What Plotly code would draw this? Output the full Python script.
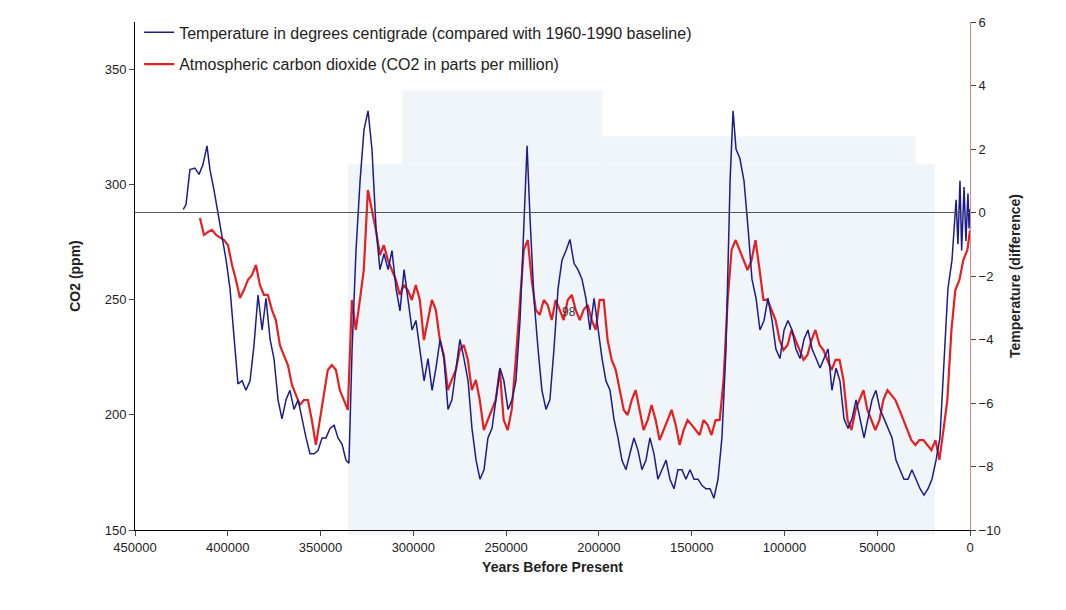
import plotly.graph_objects as go

temp_kyr = [424,422.5,420.4,417.7,415.5,413.4,411.2,409.6,407.4,405.3,403.1,400.9,398.8,396.6,394.5,392.3,390.2,388,385.9,383.7,381.5,379.4,377.2,375.1,372.9,370.8,368.6,366.5,364.3,362.1,360,357.8,355.7,353.5,351.4,349.2,347.1,344.9,342.7,340.6,338.4,336.3,334.7,333,330.9,328.7,326.6,324.4,322.3,320.1,318,315.8,313.6,311.5,309.3,307.2,305,302.9,300.7,298.6,296.4,294.2,292.1,289.9,287.8,285.6,283.5,281.3,279.2,277,274.9,272.7,270.5,268.4,266.2,264.1,261.9,259.8,257.6,255.5,253.3,251.2,249,246.8,244.7,242.5,240.4,238.7,237.1,235,232.8,230.7,228.5,226.4,224.2,222,219.9,217.7,215.6,213.4,211.3,209.1,207,204.8,202.6,200.5,198.3,196.2,194,191.9,189.7,187.6,185.4,183.3,181.1,178.9,176.8,174.6,172.5,170.3,168.2,166,163.8,161.7,159.5,157.4,155.2,153.1,150.9,148.7,146.6,144.4,142.3,140.1,138,135.8,133.7,131.5,129.3,127.7,126.1,124,121.8,119.6,117.5,115.3,113.2,111,108.9,106.7,104.6,102.4,100.2,98.1,95.9,93.8,91.6,89.5,87.3,85.1,83,80.8,78.7,76.5,74.4,72.2,70.1,67.9,65.7,63.6,61.4,59.3,57.1,55,52.8,50.7,48.5,46.3,44.2,42,39.9,37.7,35.6,33.4,31.3,29.1,26.9,24.8,22.6,20.5,18.3,16.2,14,11.9,9.7,7.5,6.5,5.4,4.5,3.2,2.2,1.1,0.5,0]
temp_val = [0.1,0.25,1.35,1.4,1.2,1.5,2.1,1.35,0.7,-0.05,-0.85,-1.5,-2.4,-4.0,-5.4,-5.3,-5.6,-5.3,-4.2,-2.6,-3.7,-2.7,-4.0,-4.6,-5.9,-6.5,-5.9,-5.6,-6.2,-5.9,-6.5,-7.1,-7.6,-7.6,-7.5,-7.1,-7.1,-6.8,-6.7,-7.1,-7.3,-7.8,-7.9,-4.3,-1.2,1.0,2.6,3.2,2.0,-0.5,-1.8,-1.3,-1.8,-1.2,-2.4,-3.1,-1.8,-2.7,-3.7,-3.4,-4.3,-5.3,-4.6,-5.6,-4.9,-4.0,-4.6,-6.2,-5.9,-4.9,-4.0,-4.6,-5.3,-6.8,-7.8,-8.4,-8.1,-7.1,-6.8,-5.9,-4.9,-5.3,-6.2,-5.9,-5.3,-3.4,-0.5,2.1,-0.2,-2.7,-4.3,-5.6,-6.2,-5.9,-4.3,-2.4,-1.5,-1.2,-0.85,-1.6,-1.8,-2.1,-2.7,-3.7,-2.7,-3.7,-4.6,-5.3,-5.6,-6.5,-7.1,-7.8,-8.1,-7.6,-7.1,-7.5,-8.1,-7.8,-7.1,-7.6,-8.4,-8.1,-7.8,-8.4,-8.7,-8.1,-8.1,-8.4,-8.1,-8.4,-8.4,-8.6,-8.7,-8.7,-9.0,-8.4,-7.1,-4.3,1.0,3.2,2.0,1.7,1.0,-0.5,-2.1,-2.7,-3.7,-3.4,-2.7,-3.4,-4.3,-4.6,-3.7,-3.4,-3.7,-4.3,-4.6,-4.0,-3.7,-4.3,-4.6,-4.9,-4.6,-4.3,-5.6,-4.9,-5.3,-6.5,-6.8,-6.5,-5.9,-6.5,-7.1,-6.5,-5.9,-5.6,-6.2,-6.5,-6.8,-7.1,-7.8,-8.1,-8.4,-8.4,-8.1,-8.4,-8.7,-8.9,-8.7,-8.4,-7.8,-7.1,-4.9,-2.4,-1.5,0.4,-1.0,1.0,-1.2,0.8,-0.9,0.6,-0.5,0.1]

co2_kyr = [415,412.8,410.6,408.5,406.3,404.2,402,399.9,397.7,395.6,393.4,391.3,389.1,387,384.8,382.7,380.5,378.4,376.2,374.1,371.9,369.8,367.6,365.4,363.3,361.1,359,356.8,354.7,352.5,350.4,348.2,346.1,343.9,341.7,339.6,337.4,335.3,333.1,331,328.8,326.7,324.5,322.3,320.2,318,315.9,313.7,311.6,309.4,307.3,305.1,303,300.8,298.7,296.5,294.3,292.2,290,287.9,285.7,283.6,281.4,279.3,277.1,275,272.8,270.6,268.5,266.3,264.2,262,259.9,257.7,255.6,253.4,251.3,249.1,247,244.8,242.6,240.5,238.3,236.2,234,231.9,229.7,227.6,225.4,223.3,221.1,219,216.8,214.6,212.5,210.3,208.2,206,203.9,201.7,199.6,197.4,195.3,193.1,190.9,188.8,186.6,184.5,182.3,180.2,178,175.9,173.7,171.6,169.4,167.3,165.1,162.9,160.8,158.6,156.5,154.3,152.2,150,147.9,145.7,143.6,141.4,139.3,137.1,134.9,132.8,130.6,128.5,126.3,124.2,122,119.9,117.7,115.6,113.4,111.3,109.1,107,104.8,102.6,100.5,98.3,96.2,94,91.9,89.7,87.6,85.4,83.3,81.1,79,76.8,74.6,72.5,70.3,68.2,66,63.9,61.7,59.6,57.4,55.3,53.1,51,48.8,46.7,44.5,42.3,40.2,38,35.9,33.7,31.6,29.4,27.3,25.1,23,20.8,18.6,16.5,14.3,12.2,10,7.9,5.7,3.6,1.4,0]
co2_val = [285.4,278,279.3,280.2,278,277.1,275.8,273.6,265,258.5,250.7,254.1,258.5,260.6,265,256.3,252,252,245.5,241.1,230.2,225.9,221.6,212.9,208.6,204.2,206.4,206.4,197.7,186.9,197.7,208.6,219.4,221.6,219.4,210.7,206.4,202.1,249.8,236.8,249.8,262.8,297.5,288.8,280.2,269.3,273.6,267.1,262.8,258.5,252,256.3,254.1,249.8,256.3,249.8,232.4,241.1,249.8,245.5,232.4,225.9,210.7,215.1,219.4,228.1,230.3,223.8,210.7,215.1,206.4,193.4,197.7,202.1,206.4,219.4,197.7,193.4,202.1,223.8,249.8,271.5,275.8,258.5,245.5,243.3,249.8,247.6,241.1,249.8,245.5,241.1,249.8,252,245.5,241.1,245.5,247.6,241.1,236.8,249.8,249.8,232.4,223.8,219.4,210.7,202.1,199.9,206.4,210.7,202.1,193.4,197.7,204.2,197.7,189,193.4,197.7,202.1,195.6,186.9,193.4,197.7,195.6,193.4,191.2,197.7,195.6,191.2,197.7,197.7,215.1,249.8,271.5,275.8,271.5,267.1,262.8,267.1,275.8,262.8,249.8,249.8,245.5,241.1,232.4,228.1,230.3,236.8,232.4,228.1,223.8,225.9,232.4,236.8,230.3,228.1,223.8,219.4,223.8,223.8,215.1,197.7,193.4,202.1,206.4,210.7,202.1,197.7,193.4,197.7,206.4,210.7,208.6,206.4,202.1,197.7,193.4,189,186.9,189,189,186.9,184.7,189,180.4,193.4,206.4,236.8,254.1,258.5,267.1,271.5,280]

x_ticks = [450000,400000,350000,300000,250000,200000,150000,100000,50000,0]

fig = go.Figure()
fig.add_trace(go.Scatter(x=[k*1000 for k in temp_kyr], y=temp_val, yaxis="y2", mode="lines",
    line=dict(color="#1c1c8a", width=1.5), legendgroup="t",
    name="Temperature in degrees centigrade (compared with 1960-1990 baseline)"))
fig.add_trace(go.Scatter(x=[k*1000 for k in co2_kyr], y=co2_val, mode="lines",
    line=dict(color="#e62020", width=2.2), legendgroup="c",
    name="Atmospheric carbon dioxide (CO2 in parts per million)"))

fill = "#e6eef5"
shapes = [
    dict(type="rect", xref="paper", yref="paper", x0=0.255, x1=0.958, y0=-0.01, y1=0.72,
         fillcolor=fill, opacity=0.6, line=dict(width=0), layer="below"),
    dict(type="rect", xref="paper", yref="paper", x0=0.32, x1=0.56, y0=0.72, y1=0.865,
         fillcolor=fill, opacity=0.6, line=dict(width=0), layer="below"),
    dict(type="rect", xref="paper", yref="paper", x0=0.56, x1=0.935, y0=0.72, y1=0.775,
         fillcolor=fill, opacity=0.6, line=dict(width=0), layer="below"),
    dict(type="line", xref="paper", yref="y2", x0=0, x1=1, y0=0, y1=0,
         line=dict(color="#555555", width=1)),
]

tickfont = dict(family="Liberation Sans, Arial", size=13, color="#222")
fig.update_layout(
    width=1066, height=610, margin=dict(l=127, r=104, t=14, b=88, autoexpand=False),
    paper_bgcolor="white", plot_bgcolor="white", shapes=shapes,
    font=dict(family="Liberation Sans, Arial", color="#222"),
    xaxis=dict(range=[450000, 0], tickvals=x_ticks, tickformat="d", ticks="outside",
               showline=True, linecolor="black", showgrid=False, zeroline=False,
               tickfont=tickfont,
               title=dict(text="<b>Years Before Present</b>", font=dict(size=14), standoff=8)),
    yaxis=dict(range=[150, 370.4], tickvals=[150, 200, 250, 300, 350], ticks="outside",
               showline=True, linecolor="black", showgrid=False, zeroline=False,
               tickfont=tickfont,
               title=dict(text="<b>CO2 (ppm)</b>", font=dict(size=14), standoff=20)),
    yaxis2=dict(range=[-10, 6], overlaying="y", side="right", tickvals=list(range(-10, 7, 2)),
                ticks="outside", showline=True, linecolor="#f08080", showgrid=False,
                zeroline=False, tickfont=tickfont,
                title=dict(text="<b>Temperature (difference)</b>", font=dict(size=14), standoff=10)),
    legend=dict(x=0.005, y=1.013, xanchor="left", yanchor="top", bgcolor="rgba(0,0,0,0)",
                font=dict(size=16, color="#222"), tracegroupgap=8),
    annotations=[dict(text="98", x=0.52, y=0.43, xref="paper", yref="paper", showarrow=False,
                      font=dict(size=12, color="#333"))],
)
fig.write_html("out.html")
